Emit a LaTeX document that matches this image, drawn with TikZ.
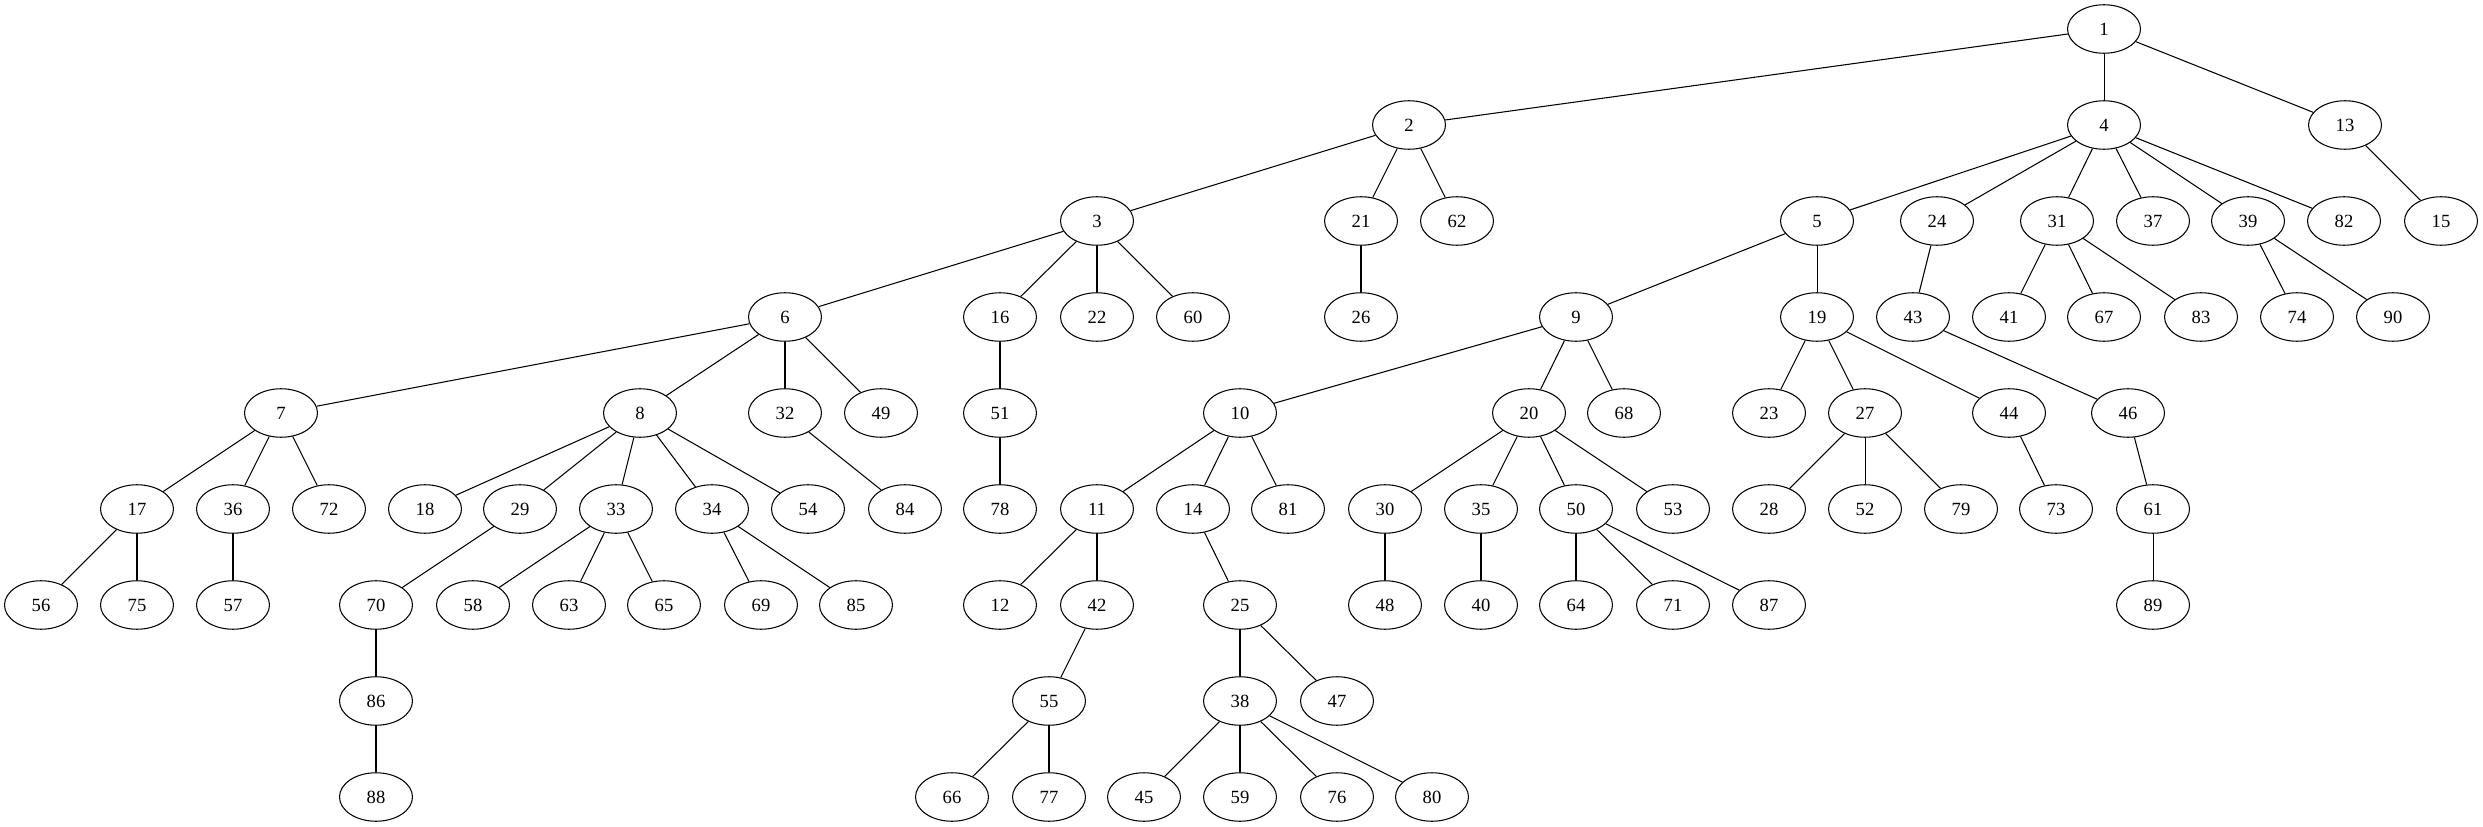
\documentclass[tikz,border=0pt]{standalone}
\usepackage{fontspec}
\setmainfont{Liberation Serif}
\usetikzlibrary{shapes.geometric}
\begin{document}
\begin{tikzpicture}[x=0.02cm, y=-0.02cm, line width=0.6pt,
	vx/.style={draw, ellipse, minimum width=1.46cm, minimum height=0.97cm, inner sep=0pt, font=\fontsize{10.6}{10.6}\selectfont}]
	\useasboundingbox (0,0) rectangle (2483,827);
	\foreach \n/\x in {1/2104} \node[vx] (n\n) at (\x,29) {\n};
	\foreach \n/\x in {2/1409,4/2104,13/2345} \node[vx] (n\n) at (\x,125) {\n};
	\foreach \n/\x in {3/1097,21/1361,62/1457,5/1817,24/1937,31/2057,37/2153,39/2248,82/2344,15/2441}
		\node[vx] (n\n) at (\x,221) {\n};
	\foreach \n/\x in {6/785,16/1000,22/1097,60/1193,26/1361,9/1576,19/1817,43/1913,41/2009,67/2104,83/2201,74/2297,90/2393}
		\node[vx] (n\n) at (\x,317) {\n};
	\foreach \n/\x in {7/281,8/640,32/785,49/881,51/1000,10/1240,20/1529,68/1624,23/1769,27/1865,44/2009,46/2128}
		\node[vx] (n\n) at (\x,413) {\n};
	\foreach \n/\x in {17/137,36/233,72/329,18/425,29/520,33/616,34/712,54/808,84/905,78/1000,11/1097,14/1193,81/1288,30/1385,35/1481,50/1576,53/1673,28/1769,52/1865,79/1961,73/2056,61/2153}
		\node[vx] (n\n) at (\x,509) {\n};
	\foreach \n/\x in {56/41,75/137,57/233,70/376,58/473,63/569,65/664,69/761,85/856,12/1000,42/1097,25/1240,48/1385,40/1481,64/1576,71/1673,87/1769,89/2153}
		\node[vx] (n\n) at (\x,605) {\n};
	\foreach \n/\x in {86/376,55/1049,38/1240,47/1337} \node[vx] (n\n) at (\x,701) {\n};
	\foreach \n/\x in {88/376,66/952,77/1049,45/1144,59/1240,76/1337,80/1432} \node[vx] (n\n) at (\x,797) {\n};
	\foreach \a/\b in {1/2,1/4,1/13,2/3,2/21,2/62,4/5,4/24,4/31,4/37,4/39,4/82,13/15,
		3/6,3/16,3/22,3/60,21/26,5/9,5/19,24/43,31/41,31/67,31/83,39/74,39/90,
		6/7,6/8,6/32,6/49,16/51,9/10,9/20,9/68,19/23,19/27,19/44,43/46,
		7/17,7/36,7/72,8/18,8/29,8/33,8/34,8/54,32/84,51/78,10/11,10/14,10/81,
		20/30,20/35,20/50,20/53,27/28,27/52,27/79,44/73,46/61,
		17/56,17/75,36/57,29/70,33/58,33/63,33/65,34/69,34/85,11/12,11/42,14/25,
		30/48,35/40,50/64,50/71,50/87,61/89,70/86,42/55,25/38,25/47,
		86/88,55/66,55/77,38/45,38/59,38/76,38/80}
		\draw (n\a) -- (n\b);
\end{tikzpicture}
\end{document}
